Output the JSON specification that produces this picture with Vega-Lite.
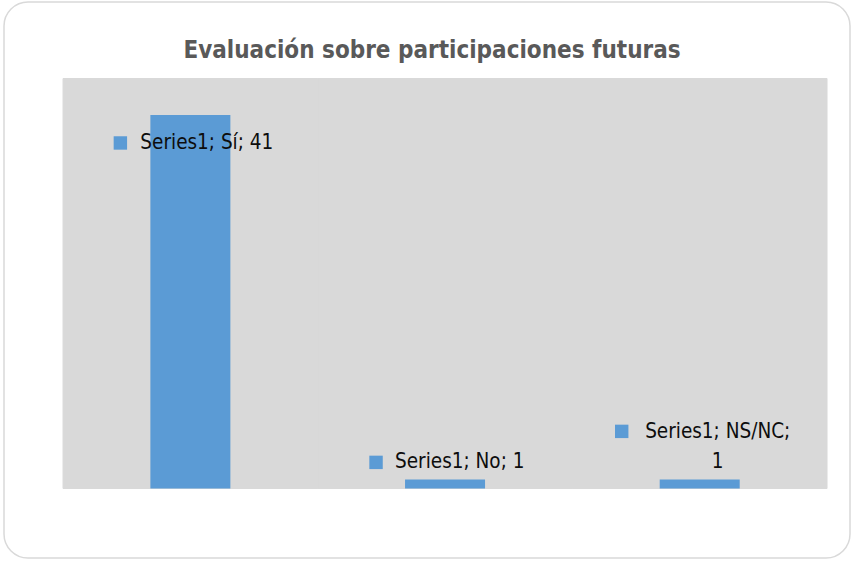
{
  "$schema": "https://vega.github.io/schema/vega-lite/v6.json",
  "width": 846,
  "height": 556,
  "autosize": "none",
  "padding": {"left": 4, "top": 2, "right": 4, "bottom": 5},
  "background": "white",
  "title": {
    "text": "Evaluación sobre participaciones futuras",
    "font": "DejaVu Sans Condensed",
    "fontSize": 24,
    "fontWeight": "bold",
    "color": "#595959",
    "anchor": "middle",
    "baseline": "alphabetic",
    "offset": -80,
    "dx": 5
  },
  "config": {
    "view": {"stroke": "#d9d9d9", "strokeWidth": 1.5, "cornerRadius": 24, "fill": "white"}
  },
  "data": {
    "values": [
      {"series": "Series1", "category": "Sí", "value": 41},
      {"series": "Series1", "category": "No", "value": 1},
      {"series": "Series1", "category": "NS/NC", "value": 1}
    ]
  },
  "transform": [
    {"calculate": "datum.series + '; ' + datum.category + ';' + (datum.category == 'NS/NC' ? '\\n' : ' ') + datum.value", "as": "label"}
  ],
  "encoding": {
    "x": {
      "field": "category",
      "type": "nominal",
      "sort": null,
      "scale": {"domain": ["Sí", "No", "NS/NC"], "paddingInner": 0, "paddingOuter": 0.161, "align": 0.72},
      "axis": null
    }
  },
  "layer": [
    {
      "mark": {"type": "rect", "fill": "#d9d9d9", "stroke": "#d9d9d9", "strokeWidth": 1},
      "encoding": {
        "y": {"datum": 45, "type": "quantitative", "scale": {"domain": [-7.63, 53.4], "nice": false, "zero": false}, "axis": null},
        "y2": {"datum": 0}
      }
    },
    {
      "mark": {"type": "bar", "width": 80, "color": "#5b9bd5"},
      "encoding": {
        "y": {"field": "value", "type": "quantitative"},
        "y2": {"datum": 0}
      }
    },
    {
      "transform": [{"filter": "datum.category == 'Sí'"}],
      "layer": [
        {
          "mark": {"type": "point", "shape": "square", "filled": true, "size": 180, "color": "#5b9bd5", "opacity": 1, "xOffset": -70, "yOffset": 28},
          "encoding": {"y": {"field": "value", "type": "quantitative"}}
        },
        {
          "mark": {"type": "text", "align": "left", "baseline": "middle", "dx": -50, "dy": 28, "font": "DejaVu Sans Condensed", "fontSize": 20.5, "color": "#0d0d0d"},
          "encoding": {"y": {"field": "value", "type": "quantitative"}, "text": {"field": "label"}}
        }
      ]
    },
    {
      "transform": [{"filter": "datum.category == 'No'"}],
      "layer": [
        {
          "mark": {"type": "point", "shape": "square", "filled": true, "size": 180, "color": "#5b9bd5", "opacity": 1, "xOffset": -69, "yOffset": -17},
          "encoding": {"y": {"field": "value", "type": "quantitative"}}
        },
        {
          "mark": {"type": "text", "align": "left", "baseline": "middle", "dx": -50, "dy": -17, "font": "DejaVu Sans Condensed", "fontSize": 20.5, "color": "#0d0d0d"},
          "encoding": {"y": {"field": "value", "type": "quantitative"}, "text": {"field": "label"}}
        }
      ]
    },
    {
      "transform": [{"filter": "datum.category == 'NS/NC'"}],
      "layer": [
        {
          "mark": {"type": "point", "shape": "square", "filled": true, "size": 180, "color": "#5b9bd5", "opacity": 1, "xOffset": -78, "yOffset": -48},
          "encoding": {"y": {"field": "value", "type": "quantitative"}}
        },
        {
          "mark": {"type": "text", "align": "center", "baseline": "middle", "dx": 18, "dy": -47, "lineHeight": 30, "lineBreak": "\n", "font": "DejaVu Sans Condensed", "fontSize": 20.5, "color": "#0d0d0d"},
          "encoding": {"y": {"field": "value", "type": "quantitative"}, "text": {"field": "label"}}
        }
      ]
    }
  ]
}
